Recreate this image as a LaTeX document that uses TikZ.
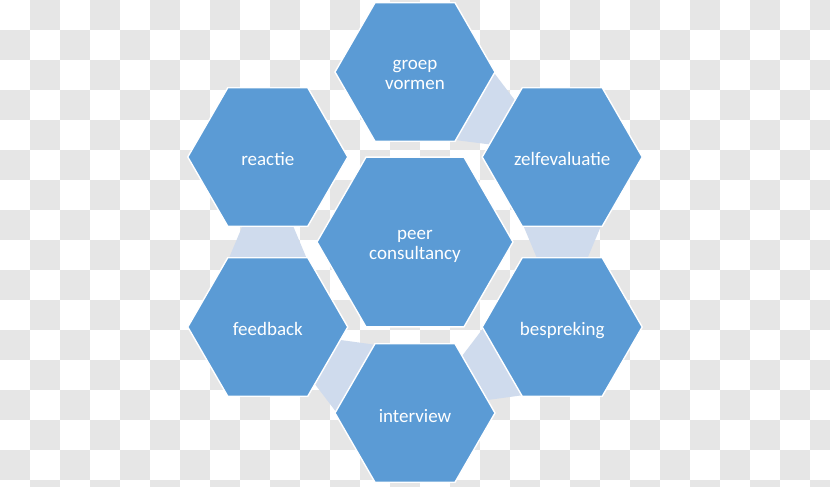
\documentclass[tikz,border=0pt]{standalone}
\usepackage{fontspec}
\setmainfont{Carlito}
\usepackage{tikz}
\usetikzlibrary{shapes.geometric, calc, backgrounds}
\usepackage{xcolor}
\definecolor{hexcolor}{RGB}{91,155,213}
\definecolor{bandcolor}{RGB}{207,219,237}
\definecolor{boardcolor}{RGB}{230,230,230}
\tikzset{
    hexblock/.style={regular polygon, regular polygon sides=6, minimum size=160pt,
        fill=hexcolor, draw=white, line width=1.4pt, inner sep=0pt, outer sep=0pt,
        text=white, align=center, text height=18pt, text depth=0pt,
        font=\fontsize{19}{20}\selectfont},
    twoline/.style={text height={}, text depth=0pt},
    bighex/.style={hexblock, minimum size=196pt},
    band/.style={fill=bandcolor}
}
\newcommand{\tall}{\rule{0pt}{15pt}}
% trapezoid from the edge of #1 (wide) to the edge of #2 (narrow)
\newcommand{\band}[2]{%
    \fill[band] ($(#1)!66pt!(#2)!40pt!90:(#2)$) -- ($(#1)!66pt!(#2)!40pt!-90:(#2)$)
        -- ($(#2)!67pt!(#1)!24.5pt!90:(#1)$) -- ($(#2)!67pt!(#1)!24.5pt!-90:(#1)$) -- cycle;}

\begin{document}
\begin{tikzpicture}[x=1pt, y=1pt]

    \useasboundingbox (-415,-245) rectangle (415,242);

    % checkered backdrop
    \begin{scope}[on background layer]
        \fill[white] (-415,-245) rectangle (415,242);
        \foreach \i in {0,...,27} {
            \foreach \j in {0,...,16} {
                \pgfmathparse{int(mod(\i+\j,2))}
                \ifnum\pgfmathresult=1
                    \fill[boardcolor] (30*\i-415,242-30*\j) rectangle ++(30,-30);
                \fi
            }
        }
    \end{scope}

    % hexagons
    \node[bighex, twoline] (peer) at (0,0) {\tall peer\\consultancy};
    \node[hexblock, twoline] (groep) at (90:170) {\tall groep\\vormen};
    \node[hexblock] (zelf) at (30:170) {zelfevaluatie};
    \node[hexblock] (bespr) at (-30:170) {bespreking};
    \node[hexblock] (inter) at (-90:171) {interview};
    \node[hexblock] (feed) at (-150:170) {feedback};
    \node[hexblock] (react) at (150:170) {reactie};

    % links between the outer hexagons
    \begin{scope}[on background layer]
        \band{groep}{zelf}
        \band{zelf}{bespr}
        \band{bespr}{inter}
        \band{inter}{feed}
        \band{feed}{react}
    \end{scope}

\end{tikzpicture}
\end{document}
